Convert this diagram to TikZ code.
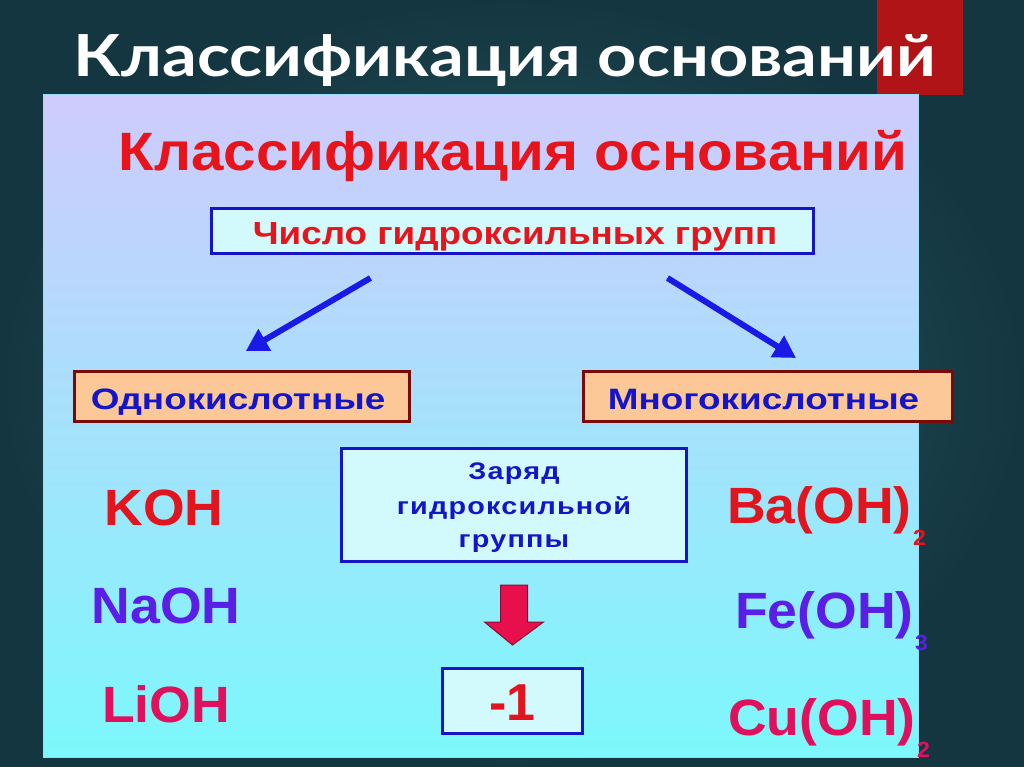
\documentclass[tikz,border=0pt]{standalone}
\usepackage{fontspec}
\setmainfont{Liberation Sans}
\newfontfamily\titlefont[FakeStretch=1.18]{Lato}
\newfontfamily\headfont[FakeStretch=1.08]{Liberation Sans}
\newfontfamily\numfont[FakeStretch=1.15]{Liberation Sans}
\newfontfamily\catfont[FakeStretch=1.25]{Liberation Sans}
\newfontfamily\chgfont[FakeStretch=1.2,LetterSpace=5]{Liberation Sans}
\newfontfamily\formfont[FakeStretch=1.05]{Liberation Sans}
\usetikzlibrary{arrows.meta,calc}
\definecolor{bgin}{HTML}{2A5E63}
\definecolor{bgout}{HTML}{143640}
\definecolor{barred}{HTML}{B01416}
\definecolor{lav}{HTML}{CFCBFD}
\definecolor{midblue}{HTML}{A8DEFB}
\definecolor{cyanb}{HTML}{7CF8FB}
\definecolor{hred}{HTML}{E8141C}
\definecolor{bblue}{HTML}{1414C8}
\definecolor{boxfill}{HTML}{D2F9FC}
\definecolor{peach}{HTML}{FCC898}
\definecolor{dred}{HTML}{7A0A0A}
\definecolor{fred}{HTML}{E2141E}
\definecolor{fpurple}{HTML}{5A1EE6}
\definecolor{fcrimson}{HTML}{E0105C}
\definecolor{arrblue}{HTML}{1A1AE6}
\definecolor{blockred}{HTML}{E8104C}
\tikzset{
  bluebox/.style={draw=bblue, line width=3pt, fill=boxfill, inner sep=0pt},
  peachbox/.style={draw=dred, line width=3pt, fill=peach, inner sep=0pt},
  lbl/.style={anchor=base, inner sep=0pt},
  chglbl/.style={anchor=base, inner sep=0pt, text=bblue, font=\chgfont\bfseries\fontsize{24}{28}\selectfont},
  formula/.style={anchor=base, inner sep=0pt, font=\formfont\bfseries\fontsize{51}{56}\selectfont},
  thinarrow/.style={draw=arrblue, line width=6pt, -{Triangle[length=22pt,width=24pt]}}
}
\newcommand{\sub}[1]{\kern1.5pt\raisebox{-22pt}{\fontsize{22}{22}\selectfont #1}}
\begin{document}
\begin{tikzpicture}[x=1pt,y=-1pt]
\useasboundingbox (0,0) rectangle (1024,767);
\shade[inner color=bgin, outer color=bgout] (0,0) rectangle (1024,767);
\fill[barred] (877,0) rectangle (963,95);
\node[lbl, text=white, font=\titlefont\bfseries\fontsize{58}{66}\selectfont] (title) at (505,77) {Классификация оснований};
\shade[top color=lav, middle color=midblue, bottom color=cyanb] (43,95) rectangle (918,757);
\draw[white!60!cyan, line width=1pt] (43,95) rectangle (918,757);
\node[lbl, text=hred, font=\headfont\bfseries\fontsize{54}{60}\selectfont] (head) at (513,171) {Классификация оснований};
\node[bluebox, minimum width=602pt, minimum height=45pt] (num) at (512.5,231) {};
\node[lbl, text=hred, font=\numfont\bfseries\fontsize{32}{36}\selectfont] (numt) at (515,244) {Число гидроксильных групп};
\node[peachbox, minimum width=335pt, minimum height=50pt] (one) at (241.8,396.5) {};
\node[lbl, text=bblue, font=\catfont\bfseries\fontsize{29.5}{34}\selectfont] (onet) at (238,409) {Однокислотные};
\node[peachbox, minimum width=369pt, minimum height=50pt] (many) at (768,396.5) {};
\node[lbl, text=bblue, font=\catfont\bfseries\fontsize{29.5}{34}\selectfont] (manyt) at (763.5,409) {Многокислотные};
\draw[thinarrow] ([xshift=-142pt,yshift=-23pt]num.south) -- ([xshift=4pt,yshift=19pt]one.north);
\draw[thinarrow] ([xshift=155pt,yshift=-23pt]num.south) -- ([xshift=28pt,yshift=12pt]many.north);
\node[bluebox, minimum width=345pt, minimum height=113pt] (charge) at (514,505) {};
\node[chglbl] (chg1) at (514,479) {Заряд};
\node[chglbl] (chg2) at (514,514) {гидроксильной};
\node[chglbl] (chg3) at (514,547) {группы};
\node[bluebox, minimum width=140pt, minimum height=65pt] (m1) at (512.5,701) {};
\node[lbl, text=fred, font=\bfseries\fontsize{52}{56}\selectfont] (m1t) at (512.5,720) {-1};
\draw[draw=blockred!60!black, fill=blockred, line width=1pt]
  ($(charge.south)+(-13.5,22)$) -- ($(charge.south)+(13.5,22)$) -- ($(charge.south)+(13.5,59)$)
  -- ($(charge.south)+(29.5,59)$) -- ($(m1.north)+(0,-22)$) -- ($(charge.south)+(-29.5,59)$)
  -- ($(charge.south)+(-13.5,59)$) -- cycle;
\node[formula, text=fred] (koh) at (164,525) {KOH};
\node[formula, text=fpurple] (naoh) at (166,623) {NaOH};
\node[formula, text=fcrimson] (lioh) at (166,722) {LiOH};
\node[formula, anchor=base west, text=fred] (ba) at (727,523) {Ba(OH)\sub{2}};
\node[formula, anchor=base west, text=fpurple] (fe) at (735,628) {Fe(OH)\sub{3}};
\node[formula, anchor=base west, text=fcrimson] (cu) at (728,735) {Cu(OH)\sub{2}};
\end{tikzpicture}
\end{document}
